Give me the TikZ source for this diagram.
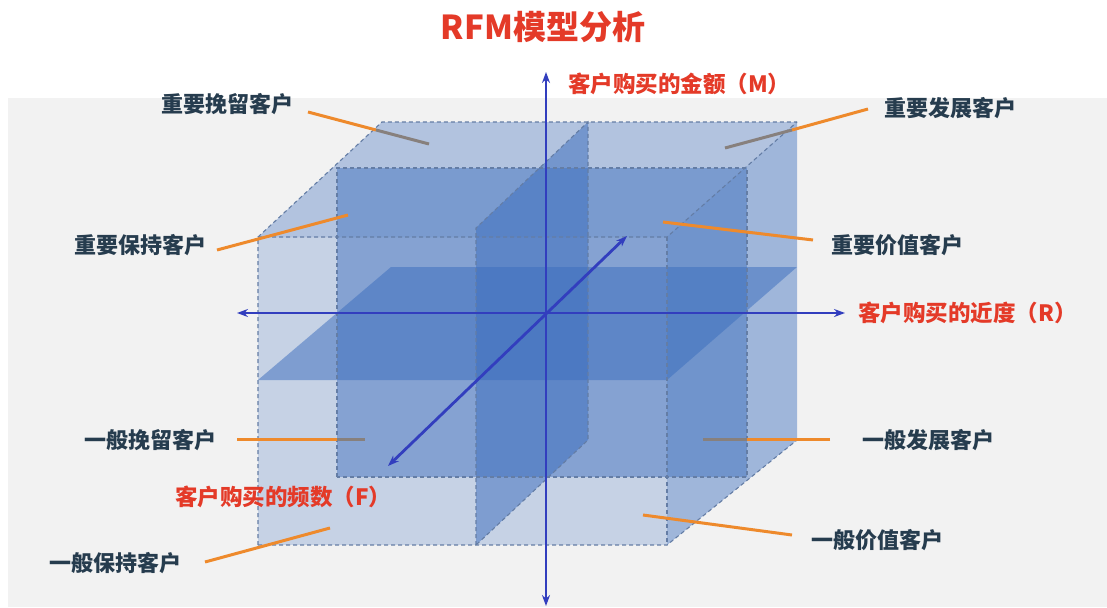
\documentclass[tikz,border=0pt]{standalone}
\usepackage{fontspec}
\setmainfont{Noto Sans CJK SC}
\usetikzlibrary{arrows.meta}
\definecolor{bgray}{HTML}{F2F2F2}
\definecolor{cubeblue}{RGB}{60,110,190}
\definecolor{edgec}{RGB}{100,125,165}
\definecolor{axisc}{RGB}{50,62,190}
\definecolor{redc}{RGB}{228,58,40}
\definecolor{darkc}{RGB}{38,60,78}
\definecolor{orangec}{RGB}{238,138,44}
\definecolor{grayl}{RGB}{135,128,125}
\begin{document}
\begin{tikzpicture}[x=1pt,y=-1pt,
  edge/.style={draw=edgec, line width=1.1pt, dash pattern=on 4pt off 3pt},
  axis/.style={draw=axisc, line width=2.8pt, {Stealth[length=11pt,width=8pt]}-{Stealth[length=11pt,width=8pt]}},
  cust/.style={text=darkc, font=\fontsize{22}{24}\selectfont\bfseries, inner sep=0pt},
  axlab/.style={text=redc, font=\fontsize{22.5}{24}\selectfont\bfseries, inner sep=0pt, anchor=west},
  lead/.style={draw=orangec, line width=3pt},
  leadg/.style={draw=grayl, line width=3pt}]
\useasboundingbox (0,0) rectangle (1107,607);
\fill[white] (0,0) rectangle (1107,607);
\fill[bgray] (8,98) rectangle (1107,607);

% faces
\fill[cubeblue, fill opacity=0.24] (258,237) rectangle (667,545);
\fill[cubeblue, fill opacity=0.35] (258,237) -- (382,122) -- (797,122) -- (667,237) -- cycle;
\fill[cubeblue, fill opacity=0.45] (667,237) -- (797,122) -- (797,440) -- (667,545) -- cycle;
\fill[cubeblue, fill opacity=0.47] (337,168) rectangle (747,477);
\fill[cubeblue, fill opacity=0.52] (258,380) -- (391,267) -- (797,267) -- (667,380) -- cycle;
\fill[cubeblue, fill opacity=0.52] (476,228) -- (588,122) -- (588,440) -- (476,545) -- cycle;

% dashed edges
\draw[edge] (258,545) -- (258,237) -- (382,122) -- (797,122);
\draw[edge] (258,237) -- (667,237) -- (797,122);
\draw[edge] (258,545) -- (667,545) -- (797,440);
\draw[edge] (667,237) -- (667,545);
\draw[edge] (337,477) -- (337,168) -- (747,168) -- (747,477) -- cycle;
\draw[edge] (476,545) -- (476,228) -- (588,122) -- (588,440) -- cycle;

% axes
\coordinate (O) at (546,313);
\coordinate (Mt) at (546,72);
\coordinate (Mb) at (546,606);
\coordinate (Rl) at (237,313);
\coordinate (Rr) at (845,313);
\coordinate (Fu) at (627,236);
\coordinate (Fd) at (388,466);
\draw[axis] (Mb) -- (Mt);
\draw[axis] (Rl) -- (Rr);
\draw[axis] (Fd) -- (Fu);

% axis labels
\node[axlab] (mlab) at (568,84) {客户购买的金额（M）};
\node[axlab] (rlab) at (858,313) {客户购买的近度（R）};
\node[axlab] (flab) at (175,497) {客户购买的频数（F）};

% title
\node[text=redc, font=\fontsize{33}{36}\selectfont\bfseries, inner sep=0pt] (title) at (543,27) {RFM模型分析};

% customer labels
\node[cust] (c1) at (227,104) {重要挽留客户};
\node[cust] (c2) at (950,108) {重要发展客户};
\node[cust] (c3) at (140,245) {重要保持客户};
\node[cust] (c4) at (897,245) {重要价值客户};
\node[cust] (c5) at (150,440) {一般挽留客户};
\node[cust] (c6) at (928,440) {一般发展客户};
\node[cust] (c7) at (115,563) {一般保持客户};
\node[cust] (c8) at (877,540) {一般价值客户};

% leader lines
\coordinate (a1) at (308,112); \coordinate (m1) at (376,130); \coordinate (b1) at (429,144);
\coordinate (a2) at (868,109); \coordinate (m2) at (792,130); \coordinate (b2) at (725,148);
\coordinate (a3) at (217,250); \coordinate (b3) at (348,215);
\coordinate (a4) at (813,240); \coordinate (b4) at (663,222);
\coordinate (a5) at (237,439); \coordinate (m5) at (337,439); \coordinate (b5) at (365,439);
\coordinate (a6) at (830,439); \coordinate (m6) at (747,439); \coordinate (b6) at (703,439);
\coordinate (a7) at (205,562); \coordinate (b7) at (330,528);
\coordinate (a8) at (792,535); \coordinate (b8) at (643,515);
\draw[lead] (a1) -- (m1); \draw[leadg] (m1) -- (b1);
\draw[lead] (a2) -- (m2); \draw[leadg] (m2) -- (b2);
\draw[lead] (a3) -- (b3);
\draw[lead] (a4) -- (b4);
\draw[lead] (a5) -- (m5); \draw[leadg] (m5) -- (b5);
\draw[lead] (a6) -- (m6); \draw[leadg] (m6) -- (b6);
\draw[lead] (a7) -- (b7);
\draw[lead] (a8) -- (b8);
\end{tikzpicture}
\end{document}
